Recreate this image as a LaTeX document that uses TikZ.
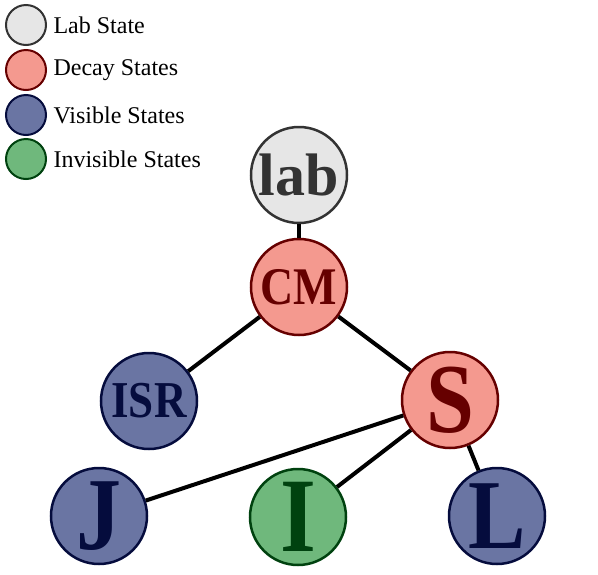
\documentclass[tikz,border=0pt]{standalone}
\usepackage{fontspec}
\usepackage{graphicx}
\setmainfont{Liberation Serif}
\usepackage{tikz}
\usetikzlibrary{positioning}

\definecolor{labfill}{HTML}{E6E6E6}
\definecolor{labline}{HTML}{333333}
\definecolor{decayfill}{HTML}{F4998F}
\definecolor{decayline}{HTML}{660000}
\definecolor{visfill}{HTML}{6A75A3}
\definecolor{visline}{HTML}{050C3D}
\definecolor{invfill}{HTML}{6FB87C}
\definecolor{invline}{HTML}{00420F}

\newcommand{\tallbf}[2]{\fontsize{#1}{#1}\selectfont\bfseries\scalebox{1}[1.15]{#2}}

\tikzset{
  state/.style={circle, line width=2.5pt, minimum size=96pt, inner sep=0pt},
  labstate/.style={state, fill=labfill, draw=labline, text=labline},
  decaystate/.style={state, fill=decayfill, draw=decayline, text=decayline},
  visstate/.style={state, fill=visfill, draw=visline, text=visline},
  invstate/.style={state, fill=invfill, draw=invline, text=invline},
  legdot/.style={circle, line width=2pt, minimum size=40pt, inner sep=0pt},
  legtext/.style={font=\fontsize{24}{24}\selectfont, right=3pt of #1},
  link/.style={line width=4pt, black}
}

\begin{document}
\begin{tikzpicture}[x=1pt, y=-1pt]
\useasboundingbox (0,0) rectangle (598,574);

% legend
\node[legdot, fill=labfill, draw=labline] (leglab) at (26,25) {};
\node[legdot, fill=decayfill, draw=decayline] (legdecay) at (26,70) {};
\node[legdot, fill=visfill, draw=visline] (legvis) at (26,115) {};
\node[legdot, fill=invfill, draw=invline] (leginv) at (26,159) {};
\node[legtext=leglab] {Lab State};
\node[legtext=legdecay] {Decay States};
\node[legtext=legvis] {Visible States};
\node[legtext=leginv] {Invisible States};

% states
\node[labstate, font=\fontsize{60}{60}\selectfont\bfseries] (lab) at (299,175) {lab};
\node[decaystate] (cm) at (299,287) {\tallbf{46}{CM}};
\node[visstate] (isr) at (149,401) {\tallbf{45}{ISR}};
\node[decaystate] (s) at (450,400) {\tallbf{86}{S}};
\node[visstate] (j) at (99,516) {\tallbf{90}{J}};
\node[invstate] (i) at (298,517) {\tallbf{92}{I}};
\node[visstate] (l) at (497,516) {\tallbf{86}{L}};

% links
\draw[link] (lab) -- (cm);
\draw[link] (cm) -- (isr);
\draw[link] (cm) -- (s);
\draw[link] (s) -- (j);
\draw[link] (s) -- (i);
\draw[link] (s) -- (l);
\end{tikzpicture}
\end{document}
